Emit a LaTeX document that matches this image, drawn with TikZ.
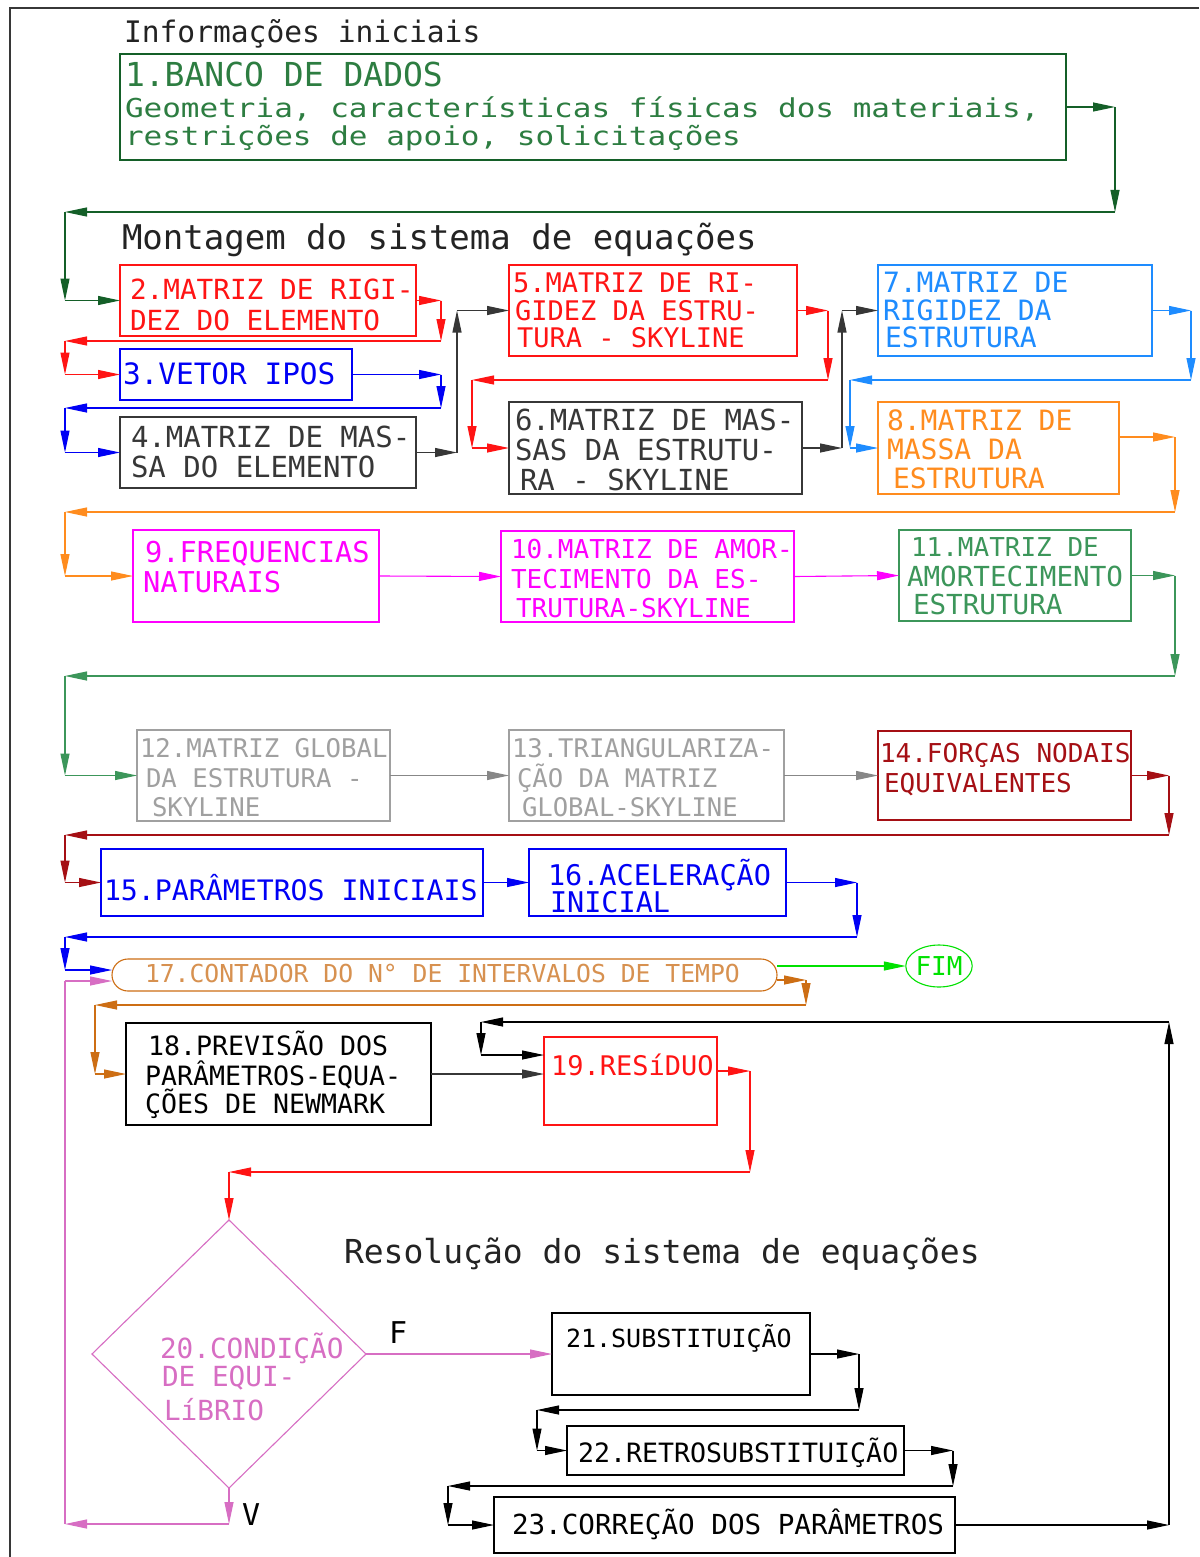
\documentclass[tikz,border=0pt]{standalone}
\usepackage{fontspec}
\newfontfamily\cadfont{DejaVu Sans Mono}
\usetikzlibrary{arrows.meta,shapes.geometric}
\newcommand\cadsize[1]{\cadfont\fontsize{#1}{#1}\selectfont}
\newcommand\squashline[1]{\scalebox{1}[0.84]{#1}}

\definecolor{cgreen}{RGB}{20,95,40}
\definecolor{ctgreen}{RGB}{45,125,65}
\definecolor{cred}{RGB}{255,20,20}
\definecolor{cblue}{RGB}{0,0,245}
\definecolor{cdark}{RGB}{55,55,55}
\definecolor{csky}{RGB}{30,140,255}
\definecolor{corange}{RGB}{255,140,30}
\definecolor{cmag}{RGB}{255,0,255}
\definecolor{cmgreen}{RGB}{60,150,90}
\definecolor{clgray}{RGB}{160,160,160}
\definecolor{cmgray}{RGB}{135,135,135}
\definecolor{cdred}{RGB}{165,15,20}
\definecolor{cbrown}{RGB}{205,110,20}
\definecolor{ctbrown}{RGB}{215,145,80}
\definecolor{clime}{RGB}{0,225,0}
\definecolor{cpink}{RGB}{215,110,195}
\definecolor{ctitle}{RGB}{35,35,35}

% draw a chain of arrowed legs through a list of named points
\newcommand\legs[2]{%
  \gdef\legprev{}%
  \foreach \legpt in {#2}{%
    \ifx\legprev\empty\else\draw[ar,#1] (\legprev) -- (\legpt);\fi
    \xdef\legprev{\legpt}}}

\begin{document}
\begin{tikzpicture}[x=1pt,y=-1pt,
  box/.style={draw, line width=1.1pt, inner sep=0pt, outer sep=0pt, anchor=north west},
  lbl/.style={anchor=base west, inner sep=0pt, outer sep=0pt},
  ar/.style={line width=1.1pt, -{Triangle[length=22pt,width=9pt]}},
  plain/.style={line width=1.1pt}]

\useasboundingbox (0,0) rectangle (1199,1557);
\fill[white] (0,0) rectangle (1199,1557);

% frame
\draw[line width=1.2pt, cdark] (1199,8) -- (10,8) -- (10,1557);

% section titles
\node[lbl, text=ctitle, font=\cadsize{29.6}] (ti1) at (124,43) {Informações iniciais};
\node[lbl, text=ctitle, font=\cadsize{34}] (ti2) at (122,249) {Montagem do sistema de equações};
\node[lbl, text=ctitle, font=\cadsize{33}] (ti3) at (344,1263) {Resolução do sistema de equações};

% boxes
\node[box, draw=cgreen, minimum width=946pt, minimum height=106pt] (b1) at (120,54) {};
\node[box, draw=cred, minimum width=296pt, minimum height=71pt] (b2) at (120,265) {};
\node[box, draw=cblue, minimum width=232pt, minimum height=51pt] (b3) at (120,349) {};
\node[box, draw=cdark, minimum width=296pt, minimum height=71pt] (b4) at (120,417) {};
\node[box, draw=cred, minimum width=288pt, minimum height=91pt] (b5) at (509,265) {};
\node[box, draw=cdark, minimum width=293pt, minimum height=92pt] (b6) at (509,402) {};
\node[box, draw=csky, minimum width=274pt, minimum height=91pt] (b7) at (878,265) {};
\node[box, draw=corange, minimum width=241pt, minimum height=92pt] (b8) at (878,402) {};
\node[box, draw=cmag, minimum width=246pt, minimum height=92pt] (b9) at (133,530) {};
\node[box, draw=cmag, minimum width=293pt, minimum height=91pt] (b10) at (501,531) {};
\node[box, draw=cmgreen, minimum width=232pt, minimum height=91pt] (b11) at (899,530) {};
\node[box, draw=clgray, minimum width=253pt, minimum height=91pt] (b12) at (137,730) {};
\node[box, draw=clgray, minimum width=275pt, minimum height=91pt] (b13) at (509,730) {};
\node[box, draw=cdred, minimum width=253pt, minimum height=89pt] (b14) at (878,731) {};
\node[box, draw=cblue, minimum width=382pt, minimum height=67pt] (b15) at (101,849) {};
\node[box, draw=cblue, minimum width=257pt, minimum height=67pt] (b16) at (529,849) {};
\node[box, draw=cbrown, rounded corners=16pt, minimum width=665pt, minimum height=32pt] (b17) at (112,959) {};
\node[draw=clime, ellipse, line width=1.1pt, inner sep=0pt, outer sep=0pt,
      minimum width=60pt, minimum height=42pt, text=clime, font=\cadsize{26}] (fim) at (939,966) {FIM};
\node[box, draw=black, minimum width=305pt, minimum height=102pt] (b18) at (126,1023) {};
\node[box, draw=cred, minimum width=173pt, minimum height=88pt] (b19) at (544,1037) {};
\node[draw=cpink, diamond, line width=1.1pt, inner sep=0pt, outer sep=0pt,
      minimum width=274pt, minimum height=268pt] (d20) at (229,1354) {};
\node[box, draw=black, minimum width=258pt, minimum height=82pt] (b21) at (552,1313) {};
\node[box, draw=black, minimum width=337pt, minimum height=49pt] (b22) at (567,1426) {};
\node[box, draw=black, minimum width=461pt, minimum height=56pt] (b23) at (494,1497) {};

% box texts
\node[lbl, text=ctgreen, font=\cadsize{33}] (t1a) at (125,87) {1.BANCO DE DADOS};
\node[lbl, text=ctgreen, font=\cadsize{31}] (t1b) at (125,118) {\squashline{Geometria, características físicas dos materiais,}};
\node[lbl, text=ctgreen, font=\cadsize{31}] (t1c) at (125,146) {\squashline{restrições de apoio, solicitações}};

\node[lbl, text=cred, font=\cadsize{27.7}] (t2a) at (130,299) {2.MATRIZ DE RIGI-};
\node[lbl, text=cred, font=\cadsize{27.7}] (t2b) at (130,330) {DEZ DO ELEMENTO};

\node[lbl, text=cblue, font=\cadsize{29.4}] (t3a) at (123,384) {3.VETOR IPOS};

\node[lbl, text=cdark, font=\cadsize{29}] (t4a) at (131,447) {4.MATRIZ DE MAS-};
\node[lbl, text=cdark, font=\cadsize{29}] (t4b) at (131,477) {SA DO ELEMENTO};

\node[lbl, text=cred, font=\cadsize{27}] (t5a) at (513,292) {5.MATRIZ DE RI-};
\node[lbl, text=cred, font=\cadsize{27}] (t5b) at (515,320) {GIDEZ DA ESTRU-};
\node[lbl, text=cred, font=\cadsize{27}] (t5c) at (517,347) {TURA - SKYLINE};

\node[lbl, text=cdark, font=\cadsize{29}] (t6a) at (515,430) {6.MATRIZ DE MAS-};
\node[lbl, text=cdark, font=\cadsize{29}] (t6b) at (515,460) {SAS DA ESTRUTU-};
\node[lbl, text=cdark, font=\cadsize{29}] (t6c) at (520,490) {RA - SKYLINE};

\node[lbl, text=csky, font=\cadsize{28}] (t7a) at (883,292) {7.MATRIZ DE};
\node[lbl, text=csky, font=\cadsize{28}] (t7b) at (883,320) {RIGIDEZ DA};
\node[lbl, text=csky, font=\cadsize{28}] (t7c) at (885,347) {ESTRUTURA};

\node[lbl, text=corange, font=\cadsize{28}] (t8a) at (887,430) {8.MATRIZ DE};
\node[lbl, text=corange, font=\cadsize{28}] (t8b) at (887,459) {MASSA DA};
\node[lbl, text=corange, font=\cadsize{28}] (t8c) at (893,488) {ESTRUTURA};

\node[lbl, text=cmag, font=\cadsize{28.7}] (t9a) at (145,562) {9.FREQUENCIAS};
\node[lbl, text=cmag, font=\cadsize{28.7}] (t9b) at (143,592) {NATURAIS};

\node[lbl, text=cmag, font=\cadsize{26}] (t10a) at (511,558) {10.MATRIZ DE AMOR-};
\node[lbl, text=cmag, font=\cadsize{26}] (t10b) at (511,588) {TECIMENTO DA ES-};
\node[lbl, text=cmag, font=\cadsize{26}] (t10c) at (516,617) {TRUTURA-SKYLINE};

\node[lbl, text=cmgreen, font=\cadsize{26}] (t11a) at (911,556) {11.MATRIZ DE};
\node[lbl, text=cmgreen, font=\cadsize{27.6}] (t11b) at (907,586) {AMORTECIMENTO};
\node[lbl, text=cmgreen, font=\cadsize{27.6}] (t11c) at (913,614) {ESTRUTURA};

\node[lbl, text=clgray, font=\cadsize{25.7}] (t12a) at (140,757) {12.MATRIZ GLOBAL};
\node[lbl, text=clgray, font=\cadsize{25.7}] (t12b) at (146,787) {DA ESTRUTURA -};
\node[lbl, text=clgray, font=\cadsize{25.7}] (t12c) at (152,816) {SKYLINE};

\node[lbl, text=clgray, font=\cadsize{25.6}] (t13a) at (512,757) {13.TRIANGULARIZA-};
\node[lbl, text=clgray, font=\cadsize{25.6}] (t13b) at (517,787) {ÇÃO DA MATRIZ};
\node[lbl, text=clgray, font=\cadsize{25.6}] (t13c) at (522,816) {GLOBAL-SKYLINE};

\node[lbl, text=cdred, font=\cadsize{26}] (t14a) at (880,762) {14.FORÇAS NODAIS};
\node[lbl, text=cdred, font=\cadsize{26}] (t14b) at (884,792) {EQUIVALENTES};

\node[lbl, text=cblue, font=\cadsize{28.2}] (t15a) at (104,900) {15.PARÂMETROS INICIAIS};

\node[lbl, text=cblue, font=\cadsize{28.5}] (t16a) at (548,885) {16.ACELERAÇÃO};
\node[lbl, text=cblue, font=\cadsize{28.5}] (t16b) at (550,912) {INICIAL};

\node[lbl, text=ctbrown, font=\cadsize{24.7}] (t17a) at (145,982) {17.CONTADOR DO N° DE INTERVALOS DE TEMPO};

\node[lbl, text=black, font=\cadsize{26.6}] (t18a) at (148,1055) {18.PREVISÃO DOS};
\node[lbl, text=black, font=\cadsize{26.6}] (t18b) at (145,1085) {PARÂMETROS-EQUA-};
\node[lbl, text=black, font=\cadsize{26.6}] (t18c) at (145,1113) {ÇÕES DE NEWMARK};

\node[lbl, text=cred, font=\cadsize{27}] (t19a) at (551,1075) {19.RESíDUO};

\node[lbl, text=cpink, font=\cadsize{27.7}] (t20a) at (160,1358) {20.CONDIÇÃO};
\node[lbl, text=cpink, font=\cadsize{27.7}] (t20b) at (162,1386) {DE EQUI-};
\node[lbl, text=cpink, font=\cadsize{27.7}] (t20c) at (164,1420) {LíBRIO};

\node[lbl, text=black, font=\cadsize{25}] (t21a) at (566,1347) {21.SUBSTITUIÇÃO};
\node[lbl, text=black, font=\cadsize{26.6}] (t22a) at (578,1462) {22.RETROSUBSTITUIÇÃO};
\node[lbl, text=black, font=\cadsize{27.6}] (t23a) at (512,1534) {23.CORREÇÃO DOS PARÂMETROS};

\node[lbl, text=black, font=\cadsize{30}] (lf) at (389,1343) {F};
\node[lbl, text=black, font=\cadsize{30}] (lv) at (242,1525) {V};

% corner points of the connectors
\coordinate (g1) at (1115,107);   \coordinate (g2) at (1115,212);
\coordinate (g3) at (65,212);     \coordinate (g4) at (65,300.5);
\coordinate (r1) at (441,300.5);  \coordinate (r2) at (441,341);
\coordinate (r3) at (65,341);     \coordinate (r4) at (65,374.5);
\coordinate (u1) at (441,374.5);  \coordinate (u2) at (441,408);
\coordinate (u3) at (65,408);     \coordinate (u4) at (65,452.5);
\coordinate (k1) at (457,452.5);  \coordinate (k2) at (457,310.5);
\coordinate (s1) at (828,310.5);  \coordinate (s2) at (828,380);
\coordinate (s3) at (472,380);    \coordinate (s4) at (472,448);
\coordinate (m1) at (842,448);    \coordinate (m2) at (842,310.5);
\coordinate (v1) at (1191,310.5); \coordinate (v2) at (1191,380);
\coordinate (v3) at (850,380);    \coordinate (v4) at (850,448);
\coordinate (o0) at (1119,437);   \coordinate (o1) at (1175,437);
\coordinate (o2) at (1175,512);   \coordinate (o3) at (65,512);
\coordinate (o4) at (65,576);
\coordinate (n1) at (1175,575.5); \coordinate (n2) at (1175,676);
\coordinate (n3) at (65,676);     \coordinate (n4) at (65,775.5);
\coordinate (c1) at (1169,775.5); \coordinate (c2) at (1169,835);
\coordinate (c3) at (65,835);     \coordinate (c4) at (65,882.5);
\coordinate (e1) at (857,882.5);  \coordinate (e2) at (857,937);
\coordinate (e3) at (65,937);     \coordinate (e4) at (65,970);
\coordinate (e5) at (112,970);
\coordinate (f0) at (777,966);
\coordinate (h0) at (777,980);    \coordinate (h1) at (806,980);
\coordinate (h2) at (806,1005);   \coordinate (h3) at (95,1005);
\coordinate (h4) at (95,1074);
\coordinate (q1) at (544,1074);
\coordinate (w0) at (717,1071);   \coordinate (w1) at (750,1071);
\coordinate (w2) at (750,1172);   \coordinate (w3) at (229,1172);
\coordinate (x1) at (859,1354);   \coordinate (x2) at (859,1410);
\coordinate (x3) at (537,1410);   \coordinate (x4) at (537,1450.5);
\coordinate (y1) at (953,1450.5); \coordinate (y2) at (953,1486);
\coordinate (y3) at (448,1486);   \coordinate (y4) at (448,1525);
\coordinate (z1) at (1169,1525);  \coordinate (z2) at (1169,1022);
\coordinate (z3) at (481,1022);   \coordinate (z4) at (481,1055);
\coordinate (z5) at (544,1055);
\coordinate (p1) at (229,1524);   \coordinate (p2) at (65,1524);
\coordinate (p3) at (65,981);     \coordinate (p4) at (112,981);

% connectors
\legs{cgreen}{b1.east,g1,g2,g3,g4,b2.west}
\legs{cred}{b2.east,r1,r2,r3,r4,b3.west}
\legs{cblue}{b3.east,u1,u2,u3,u4,b4.west}
\legs{cdark}{b4.east,k1,k2,b5.west}
\legs{cred}{b5.east,s1,s2,s3,s4,b6.west}
\legs{cdark}{b6.east,m1,m2,b7.west}
\legs{csky}{b7.east,v1,v2,v3,v4,b8.west}
\legs{corange}{o0,o1,o2,o3,o4,b9.west}
\legs{cmag}{b9.east,b10.west}
\legs{cmag}{b10.east,b11.west}
\legs{cmgreen}{b11.east,n1,n2,n3,n4,b12.west}
\legs{cmgray}{b12.east,b13.west}
\legs{cmgray}{b13.east,b14.west}
\legs{cdred}{b14.east,c1,c2,c3,c4,b15.west}
\legs{cblue}{b15.east,b16.west}
\legs{cblue}{b16.east,e1,e2,e3,e4,e5}
\legs{clime}{f0,fim.west}
\legs{cbrown}{h0,h1,h2,h3,h4,b18.west}
\legs{cdark}{b18.east,q1}
\legs{cred}{w0,w1,w2,w3,d20.north}
\legs{cpink}{d20.east,b21.west}
\legs{black}{b21.east,x1,x2,x3,x4,b22.west}
\legs{black}{b22.east,y1,y2,y3,y4,b23.west}
\legs{black}{b23.east,z1,z2,z3,z4,z5}
\legs{cpink}{d20.south,p1,p2}
\draw[plain, cpink] (p2) -- (p3);
\legs{cpink}{p3,p4}

\end{tikzpicture}
\end{document}
